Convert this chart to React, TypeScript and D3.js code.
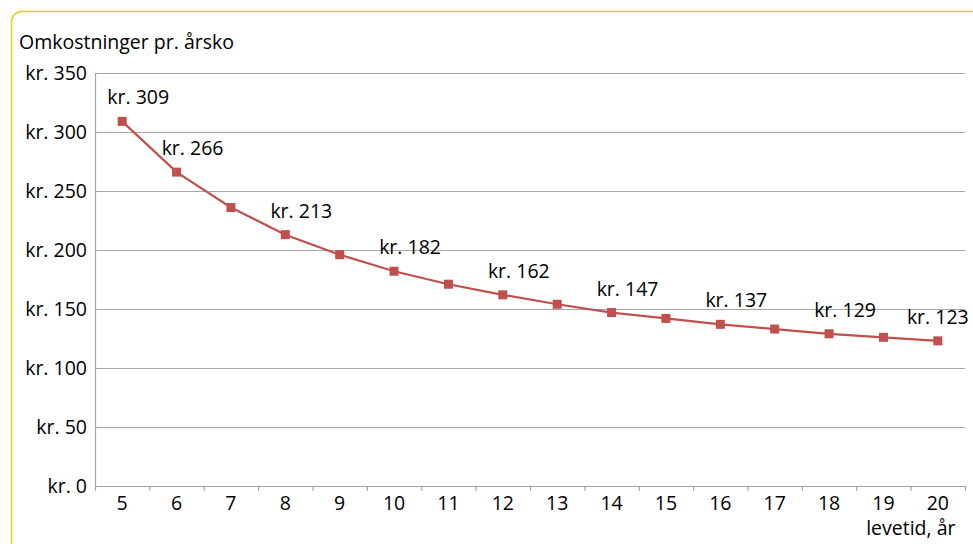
import { useEffect, useRef } from "react";
import * as d3 from "d3";

const years = [5, 6, 7, 8, 9, 10, 11, 12, 13, 14, 15, 16, 17, 18, 19, 20];
const costs = [309, 266, 236, 213, 196, 182, 171, 162, 154, 147, 142, 137, 133, 129, 126, 123];
const labelledYears = [5, 6, 8, 10, 12, 14, 16, 18, 20];
const yTicks = [0, 50, 100, 150, 200, 250, 300, 350];

const W = 973;
const H = 544;
const FONT = "'Open Sans', 'Noto Sans', sans-serif";
const FS = 19.5;
const RED = "#c0504d";

export default function App() {
  const ref = useRef<SVGSVGElement | null>(null);

  useEffect(() => {
    if (!ref.current) return;
    const svg = d3.select(ref.current);
    svg.selectAll("*").remove();

    const margin = { top: 73, right: 8, bottom: 58, left: 95 };
    const innerW = W - margin.left - margin.right;
    const innerH = H - margin.top - margin.bottom;

    // yellow frame
    svg.append("rect")
      .attr("x", 11.5).attr("y", 11.5)
      .attr("width", W + 20).attr("height", H + 20)
      .attr("rx", 10)
      .attr("fill", "#fff")
      .attr("stroke", "#e5cf14").attr("stroke-width", 1.5);

    svg.append("text")
      .attr("x", 19).attr("y", 49)
      .attr("font-family", FONT).attr("font-size", FS).attr("fill", "#000")
      .text("Omkostninger pr. årsko");

    const g = svg.append("g").attr("transform", `translate(${margin.left},${margin.top})`);

    const x = d3.scaleBand<number>().domain(years).range([0, innerW]);
    const y = d3.scaleLinear().domain([0, 350]).range([innerH, 0]);

    g.append("g")
      .selectAll("line")
      .data(yTicks)
      .join("line")
      .attr("x1", 0).attr("x2", innerW)
      .attr("y1", (d) => Math.round(y(d)) + 0.5).attr("y2", (d) => Math.round(y(d)) + 0.5)
      .attr("stroke", "#a6a6a6").attr("stroke-width", 1.2);

    g.append("line")
      .attr("x1", 0.5).attr("x2", 0.5).attr("y1", 0).attr("y2", innerH)
      .attr("stroke", "#a6a6a6").attr("stroke-width", 1.2);

    // y labels
    g.append("g")
      .selectAll("text")
      .data(yTicks)
      .join("text")
      .attr("x", -8).attr("y", (d) => y(d))
      .attr("dy", "0.36em")
      .attr("text-anchor", "end")
      .attr("font-family", FONT).attr("font-size", FS).attr("fill", "#000")
      .text((d) => `kr. ${d}`);

    // x ticks at category boundaries
    const bounds = years.map((d) => x(d) as number).concat([innerW]);
    g.append("g")
      .selectAll("line")
      .data(bounds)
      .join("line")
      .attr("x1", (d) => d + 0.5).attr("x2", (d) => d + 0.5)
      .attr("y1", innerH).attr("y2", innerH + 5)
      .attr("stroke", "#a6a6a6").attr("stroke-width", 1.2);

    g.append("g")
      .selectAll("text")
      .data(years)
      .join("text")
      .attr("x", (d) => (x(d) as number) + x.bandwidth() / 2)
      .attr("y", innerH + 24)
      .attr("text-anchor", "middle")
      .attr("font-family", FONT).attr("font-size", FS).attr("fill", "#000")
      .text((d) => d);

    g.append("text")
      .attr("x", (x(20) as number) + x.bandwidth() / 2 - 27)
      .attr("y", innerH + 49)
      .attr("text-anchor", "middle")
      .attr("font-family", FONT).attr("font-size", FS).attr("fill", "#000")
      .text("levetid, år");

    const cx = (d: number) => (x(d) as number) + x.bandwidth() / 2;
    const pts = years.map((yr, i) => ({ yr, v: costs[i] }));

    const line = d3.line<{ yr: number; v: number }>()
      .x((d) => cx(d.yr))
      .y((d) => y(d.v));
    g.append("path").datum(pts).attr("d", line)
      .attr("fill", "none").attr("stroke", RED).attr("stroke-width", 2.2);

    g.append("g")
      .selectAll("rect")
      .data(pts)
      .join("rect")
      .attr("x", (d) => cx(d.yr) - 4.5).attr("y", (d) => y(d.v) - 4.5)
      .attr("width", 9).attr("height", 9)
      .attr("fill", RED);

    const last = years[years.length - 1];
    g.append("g")
      .selectAll("text")
      .data(pts.filter((d) => labelledYears.includes(d.yr)))
      .join("text")
      .attr("x", (d) => cx(d.yr) + (d.yr === last ? 0 : 16))
      .attr("y", (d) => y(d.v) - 17)
      .attr("text-anchor", "middle")
      .attr("font-family", FONT).attr("font-size", FS).attr("fill", "#000")
      .text((d) => `kr. ${d.v}`);
  }, []);

  return (
    <div style={{ position: "absolute", left: 0, top: 0, width: W, height: H, overflow: "hidden", background: "#fff" }}>
      <svg ref={ref} width={W} height={H} style={{ display: "block" }} />
    </div>
  );
}
